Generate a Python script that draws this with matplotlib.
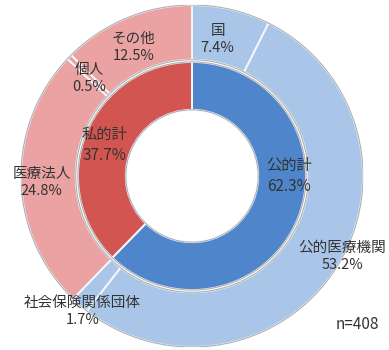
import numpy as np
import matplotlib.pyplot as plt

plt.rcParams['font.family'] = ['Noto Sans CJK JP', 'DejaVu Sans']

# inner ring: public / private totals
inner_labels = ['公的計', '私的計']
inner_values = [62.3, 37.7]
inner_colors = ['#4f86cb', '#d25552']

# outer ring: breakdown
outer_labels = ['国', '公的医療機関', '社会保険関係団体', '医療法人', '個人', 'その他']
outer_values = [7.4, 53.2, 1.7, 24.8, 0.5, 12.5]
outer_colors = ['#a9c5e8', '#a9c5e8', '#a9c5e8', '#eaa3a2', '#eaa3a2', '#eaa3a2']

# label placement (text centre, in units of outer radius)
inner_label_pos = [(0.57, 0.0), (-0.51, 0.18)]
outer_label_pos = [(0.15, 0.80), (0.88, -0.47), (-0.64, -0.79),
                   (-0.88, -0.04), (-0.60, 0.57), (-0.34, 0.75)]

fig = plt.figure(figsize=(3.89, 3.5), dpi=100)
ax = fig.add_axes([21/389, 3/350, 342/389, 342/350])

ax.pie(outer_values, radius=1.0, colors=outer_colors, startangle=90,
       counterclock=False,
       wedgeprops=dict(width=0.32, edgecolor='#f4f6fa', linewidth=1.4))
ax.pie(inner_values, radius=0.667, colors=inner_colors, startangle=90,
       counterclock=False,
       wedgeprops=dict(width=0.28, edgecolor='#f4f6fa', linewidth=1.4))

# soft grey rims to mimic the bevel look
for r in [1.0, 0.68, 0.667, 0.387]:
    ax.add_patch(plt.Circle((0, 0), r, fill=False, edgecolor='#8a8a8a',
                            linewidth=0.7, alpha=0.7))

txt = '#333333'
for lab, v, (x, y) in zip(inner_labels, inner_values, inner_label_pos):
    ax.text(x, y, f'{lab}\n{v:.1f}%', ha='center', va='center', fontsize=11,
            color=txt, linespacing=1.3)
for lab, v, (x, y) in zip(outer_labels, outer_values, outer_label_pos):
    ax.text(x, y, f'{lab}\n{v:.1f}%', ha='center', va='center', fontsize=10.5,
            color=txt, linespacing=1.3)

ax.text(0.97, -0.87, 'n=408', ha='center', va='center', fontsize=11, color=txt)

ax.set_xlim(-1, 1)
ax.set_ylim(-1, 1)
ax.set_aspect('equal')
ax.axis('off')

fig.savefig('out.png', dpi=100)
